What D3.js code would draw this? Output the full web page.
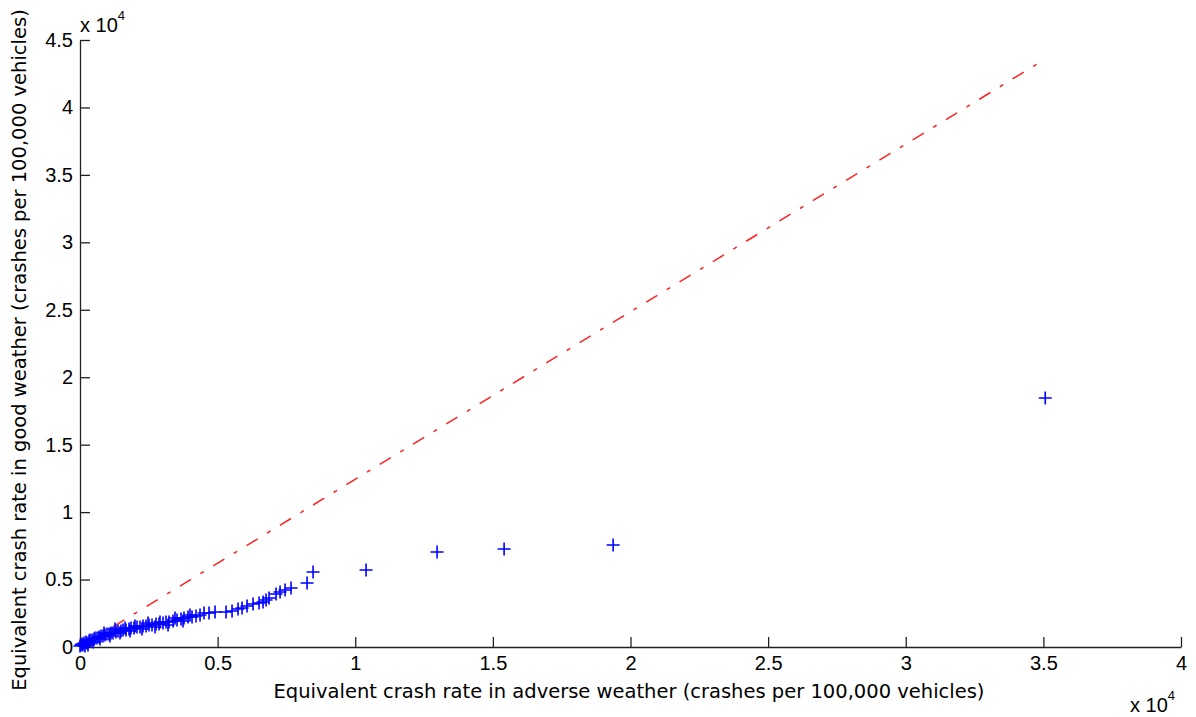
<!DOCTYPE html>
<html>
<head>
<meta charset="utf-8">
<script src="https://cdn.jsdelivr.net/npm/d3@7"></script>
<style>
  body { margin: 0; background: #fff; }
  text { font-family: "Liberation Sans", Arial, sans-serif; fill: #000; }
  .lbl { font-family: "DejaVu Sans", Tahoma, sans-serif; }
</style>
</head>
<body>
<div id="chart"></div>
<script>
// set up chart
var svgWidth = 1196;
var svgHeight = 717;

var margin = { top: 40, right: 15, bottom: 70, left: 80 };

var width = svgWidth - margin.left - margin.right;
var height = svgHeight - margin.top - margin.bottom;

// crash rates (crashes per 100,000 vehicles)
var adverseRate = [0, 36, 73, 109, 145, 218, 254, 327, 363, 436, 509, 545, 618, 690, 763, 836, 909, 981,
  1054, 1127, 1199, 1308, 1381, 1490, 1563, 1672, 1781, 1853, 1962, 2071, 2180, 2289, 2398, 2507, 2616,
  2762, 2871, 3016, 3125, 3234, 3380, 3525, 3670, 3779, 3925, 4070, 4215, 4361, 4506, 4688, 4906, 5306,
  5524, 5742, 5887, 6069, 6287, 6505, 6650, 6759, 6868, 7123, 7268, 7450, 7668, 8249, 8467, 10393,
  12973, 15408, 19369, 35068,
  182, 291, 472, 727, 872, 1090, 1272, 1454, 1635, 1817, 1999, 2253, 2471, 2726, 2907, 3198, 3452,
  3743, 3997];
var goodRate = [74, 148, 222, 148, 297, 371, 297, 445, 519, 519, 593, 667, 667, 741, 815, 815, 890, 964,
  964, 1038, 1038, 1112, 1186, 1186, 1260, 1260, 1334, 1408, 1408, 1483, 1483, 1557, 1557, 1631, 1631,
  1705, 1705, 1779, 1853, 1853, 1927, 2002, 2076, 2150, 2224, 2224, 2298, 2372, 2520, 2520, 2595, 2595,
  2669, 2817, 2891, 3039, 3188, 3262, 3336, 3484, 3632, 3929, 4077, 4225, 4374, 4744, 5560, 5708,
  7042, 7265, 7561, 18458,
  74, 148, 371, 593, 1038, 815, 1334, 1038, 1408, 1186, 1557, 1334, 1779, 1483, 1853, 1631, 2150,
  1927, 2372];

// reference line (dash-dot)
var refLineX = [0, 35000];
var refLineY = [0, 43500];

var xTicks = [0, 5000, 10000, 15000, 20000, 25000, 30000, 35000, 40000];
var yTicks = [0, 5000, 10000, 15000, 20000, 25000, 30000, 35000, 40000, 45000];

var points = adverseRate.map(function(d, i) { return { x: d, y: goodRate[i] }; });

var svg = d3.select("#chart")
  .append("svg")
  .attr("width", svgWidth)
  .attr("height", svgHeight)
  .style("display", "block");

var chartGroup = svg.append("g")
  .attr("transform", `translate(${margin.left}, ${margin.top})`);

var xLinearScale = d3.scaleLinear().domain([0, 40000]).range([0, width]);
var yLinearScale = d3.scaleLinear().domain([0, 45000]).range([height, 0]);

var fmt = function(d) { return d3.format("~g")(d / 10000); };

// axes, ticks point inward
var bottomAxis = d3.axisBottom(xLinearScale)
  .tickValues(xTicks).tickFormat(fmt)
  .tickSizeInner(-10).tickSizeOuter(0).tickPadding(9);
var leftAxis = d3.axisLeft(yLinearScale)
  .tickValues(yTicks).tickFormat(fmt)
  .tickSizeInner(-10).tickSizeOuter(0).tickPadding(7);

var xAxis = chartGroup.append("g")
  .attr("transform", `translate(0, ${height})`)
  .call(bottomAxis);
var yAxis = chartGroup.append("g")
  .call(leftAxis);

[xAxis, yAxis].forEach(function(ax) {
  ax.selectAll("path, line").attr("stroke", "#222").attr("stroke-width", 1.3);
  ax.selectAll("text")
    .style("font-size", "20px")
    .style("font-family", "'Liberation Sans', Arial, sans-serif")
    .attr("fill", "#111");
});

// dash-dot reference line
var line = d3.line()
  .x(function(d) { return xLinearScale(d); })
  .y(function(d, i) { return yLinearScale(refLineY[i]); });

chartGroup.append("path")
  .datum(refLineX)
  .attr("d", line)
  .attr("fill", "none")
  .attr("stroke", "#ff2020")
  .attr("stroke-width", 1.5)
  .attr("stroke-dasharray", "13,11,4,11");

// plus markers
chartGroup.selectAll(".pt")
  .data(points)
  .enter()
  .append("path")
  .attr("class", "pt")
  .attr("transform", d => `translate(${xLinearScale(d.x)}, ${yLinearScale(d.y)})`)
  .attr("d", "M-6.5,0H6.5M0,-6.5V6.5")
  .attr("stroke", "#0000ff")
  .attr("stroke-width", 1.6)
  .attr("fill", "none");

// axis labels
svg.append("text")
  .attr("class", "lbl")
  .attr("x", 629)
  .attr("y", 698)
  .attr("text-anchor", "middle")
  .style("font-size", "19.5px")
  .text("Equivalent crash rate in adverse weather (crashes per 100,000 vehicles)");

svg.append("text")
  .attr("class", "lbl")
  .attr("transform", "translate(26, 350) rotate(-90)")
  .attr("text-anchor", "middle")
  .style("font-size", "19.5px")
  .text("Equivalent crash rate in good weather (crashes per 100,000 vehicles)");

// exponent labels
var expTop = svg.append("text").attr("x", 80).attr("y", 32).style("font-size", "20px");
expTop.append("tspan").text("x 10");
expTop.append("tspan").attr("dy", -12).style("font-size", "13px").text("4");

var expBottom = svg.append("text").attr("x", 1130).attr("y", 712).style("font-size", "20px");
expBottom.append("tspan").text("x 10");
expBottom.append("tspan").attr("dy", -12).style("font-size", "13px").text("4");
</script>
</body>
</html>
